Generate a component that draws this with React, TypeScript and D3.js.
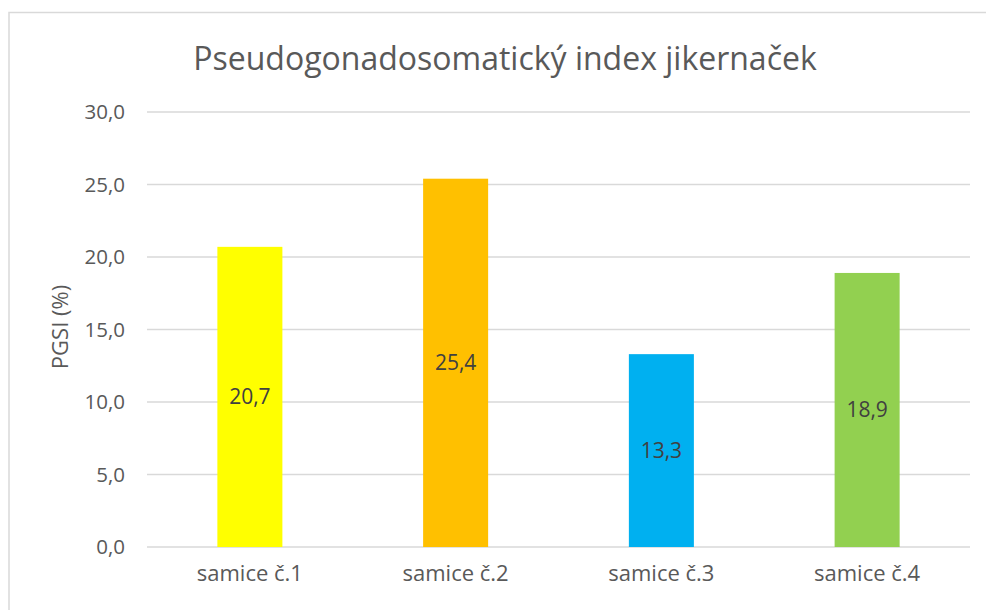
import React from "react";
import * as d3 from "d3";

const categories = ["samice č.1", "samice č.2", "samice č.3", "samice č.4"];
const values = [20.7, 25.4, 13.3, 18.9];
const colors = ["#FFFF00", "#FFC000", "#00B0F0", "#92D050"];
const yTicks = [0, 5, 10, 15, 20, 25, 30];
const title = "Pseudogonadosomatický index jikernaček";
const yLabel = "PGSI (%)";

const W = 986;
const H = 610;
const font = "'Open Sans', sans-serif";
const fmt = (v: number) => v.toFixed(1).replace(".", ",");

export default function App() {
  const x = d3.scaleBand<string>().domain(categories).range([147, 970]).paddingInner(0.684).paddingOuter(0.342);
  const y = d3.scaleLinear().domain([0, 30]).range([547, 112]);
  return (
    <svg width={W} height={H} style={{ position: "absolute", left: 0, top: 0, background: "#fff" }}>
      <rect x={9} y={12.5} width={1000} height={700} fill="#fff" stroke="#d9d9d9" strokeWidth={1.5} />
      <text x={505} y={70} textAnchor="middle" fontFamily={font} fontSize={32} fill="#595959">{title}</text>
      {yTicks.map((t) => (
        <g key={t}>
          <line x1={147} x2={970} y1={y(t)} y2={y(t)} stroke="#d9d9d9" strokeWidth={1.3} />
          <text x={125} y={y(t)} dy="0.35em" textAnchor="end" fontFamily={font} fontSize={20.5} fill="#595959">{fmt(t)}</text>
        </g>
      ))}
      <text transform={`translate(68,327) rotate(-90)`} textAnchor="middle" fontFamily={font} fontSize={22} fill="#595959">{yLabel}</text>
      {categories.map((c, i) => (
        <g key={c}>
          <rect x={x(c)!} y={y(values[i])} width={x.bandwidth()} height={y(0) - y(values[i])} fill={colors[i]} />
          <text x={x(c)! + x.bandwidth() / 2} y={y(values[i] / 2)} dy="0.35em" textAnchor="middle" fontFamily={font} fontSize={21} fill="#404040">{fmt(values[i])}</text>
          <text x={x(c)! + x.bandwidth() / 2} y={573} dy="0.35em" textAnchor="middle" fontFamily={font} fontSize={22} fill="#595959">{c}</text>
        </g>
      ))}
    </svg>
  );
}
